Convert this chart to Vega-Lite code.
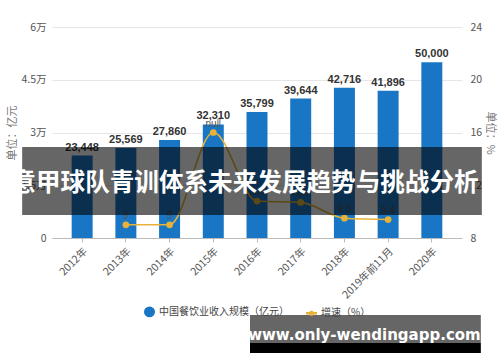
{
  "$schema": "https://vega.github.io/schema/vega-lite/v6.json",
  "width": 410,
  "height": 211,
  "autosize": {"type": "none"},
  "padding": {"left": 52, "top": 27, "right": 38, "bottom": 124},
  "background": "white",
  "config": {
    "font": "Noto Sans CJK SC",
    "view": {"stroke": null},
    "axis": {"labelColor": "#555", "labelFontSize": 10.5, "titleColor": "#777", "titleFontWeight": "normal", "titleFontSize": 11}
  },
  "datasets": {
    "main": [
      {"year": "2012年", "revenue": 23448, "growth": null, "glabel": null},
      {"year": "2013年", "revenue": 25569, "growth": 9.0, "glabel": "9"},
      {"year": "2014年", "revenue": 27860, "growth": 9.0, "glabel": "9"},
      {"year": "2015年", "revenue": 32310, "growth": 16.0, "glabel": null},
      {"year": "2016年", "revenue": 35799, "growth": 10.8, "glabel": null},
      {"year": "2017年", "revenue": 39644, "growth": 10.7, "glabel": null},
      {"year": "2018年", "revenue": 42716, "growth": 9.5, "glabel": "9.5"},
      {"year": "2019年前11月", "revenue": 41896, "growth": 9.4, "glabel": "9.4"},
      {"year": "2020年", "revenue": 50000, "growth": null, "glabel": null}
    ],
    "overlay": [{"caption": "意甲球队青训体系未来发展趋势与挑战分析", "site": "www.only-wendingapp.com"}]
  },
  "layer": [
    {
      "data": {"name": "main"},
      "layer": [
        {
          "mark": {"type": "bar"},
          "encoding": {
            "x": {
              "field": "year", "type": "nominal", "sort": null,
              "scale": {"paddingInner": 0.52, "paddingOuter": 0.45},
              "axis": {"title": null, "labelAngle": -45, "domainColor": "#bbb", "tickColor": "#bbb", "tickSize": 4, "labelPadding": 4}
            },
            "y": {
              "field": "revenue", "type": "quantitative",
              "scale": {"domain": [0, 60000]},
              "axis": {"title": "单位：亿元", "values": [0, 15000, 30000, 45000, 60000], "labelExpr": "datum.value == 0 ? '0' : (datum.value/10000) + '万'", "domain": false, "ticks": false, "gridColor": "#e6e6e6", "labelPadding": 6, "titlePadding": 3}
            },
            "color": {"datum": "中国餐饮业收入规模（亿元）", "type": "nominal",
              "scale": {"domain": ["中国餐饮业收入规模（亿元）", "增速（%）"], "range": ["#1976c5", "#e6b23a"]},
              "legend": {"title": null, "orient": "none", "legendX": 92, "legendY": 279, "direction": "horizontal", "labelFontSize": 10, "labelColor": "#444", "symbolSize": 90, "columnPadding": 14,
                "encode": {"symbols": {"update": {"shape": {"signal": "datum.value === '增速（%）' ? 'M-1,-0.1H1V0.1H-1Z M0.38,0A0.38,0.38 0 1,1 -0.38,0A0.38,0.38 0 1,1 0.38,0Z' : 'circle'"}}}}}
            }
          }
        },
        {
          "mark": {"type": "text", "dy": -8, "fontWeight": "bold", "fontSize": 11, "color": "#333", "font": "Liberation Sans"},
          "encoding": {
            "x": {"field": "year", "type": "nominal", "sort": null},
            "y": {"field": "revenue", "type": "quantitative", "scale": {"domain": [0, 60000]}},
            "text": {"field": "revenue", "type": "quantitative", "format": ",d"}
          }
        }
      ]
    },
    {
      "data": {"name": "main"},
      "layer": [
        {
          "mark": {"type": "line", "interpolate": "monotone", "strokeWidth": 1.6, "point": {"filled": true, "size": 45}},
          "encoding": {
            "x": {"field": "year", "type": "nominal", "sort": null},
            "y": {
              "field": "growth", "type": "quantitative",
              "scale": {"domain": [8, 24]},
              "axis": {"orient": "right", "title": "单位：%", "values": [8, 12, 16, 20, 24], "grid": false, "domain": false, "ticks": false, "labelPadding": 8, "titlePadding": 3}
            },
            "color": {"datum": "增速（%）", "type": "nominal"}
          }
        },
        {
          "mark": {"type": "text", "dy": -9, "fontSize": 10, "color": "#555", "font": "Liberation Sans"},
          "encoding": {
            "x": {"field": "year", "type": "nominal", "sort": null},
            "y": {"field": "growth", "type": "quantitative", "scale": {"domain": [8, 24]}},
            "text": {"field": "glabel"}
          }
        }
      ]
    },
    {
      "data": {"name": "overlay"},
      "layer": [
        {
          "mark": {"type": "rect", "color": "black", "opacity": 0.6, "clip": false, "xOffset": -60, "x2Offset": 50},
          "encoding": {
            "x": {"datum": "2012年"},
            "x2": {"datum": "2020年"},
            "y": {"datum": 25877, "type": "quantitative", "scale": {"domain": [0, 60000]}, "axis": null},
            "y2": {"datum": 6540}
          }
        },
        {
          "mark": {"type": "text", "color": "white", "fontWeight": "bold", "fontSize": 24.6, "dx": -12, "baseline": "middle", "align": "center"},
          "encoding": {
            "y": {"datum": 15355, "type": "quantitative", "scale": {"domain": [0, 60000]}},
            "text": {"field": "caption"}
          }
        },
        {
          "mark": {"type": "rect", "color": "black", "opacity": 0.6, "clip": false, "xOffset": -7, "x2Offset": 49},
          "encoding": {
            "x": {"datum": "2016年"},
            "x2": {"datum": "2020年"},
            "y": {"datum": -21896, "type": "quantitative", "scale": {"domain": [0, 60000]}},
            "y2": {"datum": -29858}
          }
        },
        {
          "mark": {"type": "rect", "color": "black", "opacity": 1, "clip": false, "xOffset": -7, "x2Offset": 49},
          "encoding": {
            "x": {"datum": "2016年"},
            "x2": {"datum": "2020年"},
            "y": {"datum": -29858, "type": "quantitative", "scale": {"domain": [0, 60000]}},
            "y2": {"datum": -32701}
          }
        },
        {
          "mark": {"type": "text", "color": "white", "fontWeight": "bold", "fontSize": 15, "font": "DejaVu Sans", "dx": 20, "baseline": "middle", "align": "center"},
          "encoding": {
            "x": {"datum": "2018年"},
            "y": {"datum": -27600, "type": "quantitative", "scale": {"domain": [0, 60000]}},
            "text": {"field": "site"}
          }
        }
      ]
    }
  ],
  "resolve": {"scale": {"y": "independent"}}
}
